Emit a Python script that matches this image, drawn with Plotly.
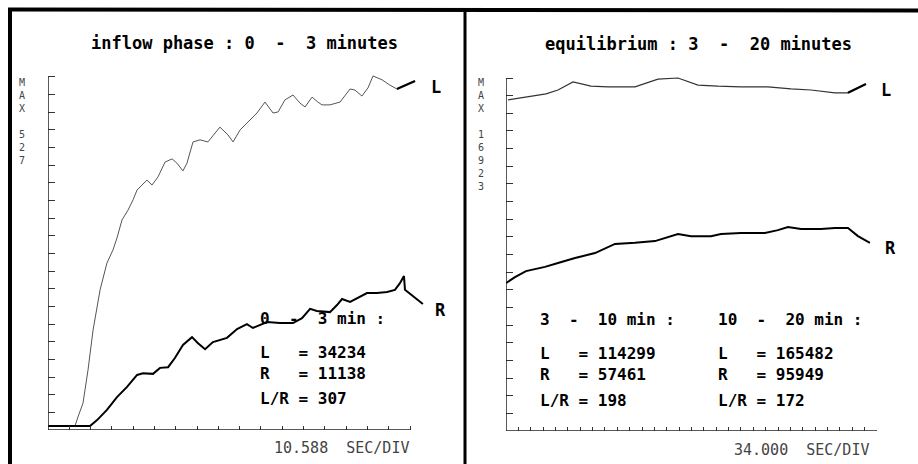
import plotly.graph_objects as go

# ---------------- data ----------------
# Left panel: inflow phase, time in seconds (0-180), signal in % of panel max
left_L_t = [0.0, 13.4, 14.9, 17.4, 19.9, 22.4, 25.9, 29.3, 32.3, 34.3, 36.8, 39.8, 42.3, 44.3, 49.2,
            51.7, 54.7, 58.2, 61.7, 64.1, 67.1, 69.1, 72.1, 75.6, 79.5, 85.5, 89.5, 92.0, 95.5,
            99.4, 103.9, 107.9, 111.9, 114.4, 117.8, 121.8, 125.3, 127.8, 131.3, 134.2, 136.2,
            140.2, 145.2, 150.2, 152.6, 156.1, 159.1, 161.6, 166.1, 170.0, 173.5, 177.5, 182.5]
left_L_v = [1.1, 1.1, 3.7, 7.6, 17.0, 28.3, 39.7, 47.3, 51.0, 54.4, 59.5, 62.3, 65.2, 68.0, 70.8,
            69.4, 71.7, 75.9, 76.8, 75.6, 73.4, 75.6, 81.6, 82.2, 81.6, 85.8, 83.6, 81.6, 85.0,
            87.3, 89.8, 92.9, 89.8, 90.1, 93.5, 94.9, 92.6, 91.5, 94.3, 92.9, 92.1,
            92.1, 92.9, 96.6, 96.3, 94.6, 96.9, 100.3, 99.2, 97.7, 96.6, 97.7, 98.9]
left_R_t = [0.0, 20.9, 24.4, 29.3, 34.3, 39.3, 44.3, 47.2, 52.2, 55.7, 59.7, 63.1, 67.1, 71.6, 74.6,
            78.1, 82.0, 89.0, 94.0, 98.9, 101.9, 105.4, 108.9, 115.3, 121.8, 126.3, 130.3, 133.7,
            140.2, 143.7, 146.2, 150.2, 153.6, 158.6, 163.6, 168.6, 172.5, 175.0, 177.0, 177.5, 186.4]
left_R_v = [1.1, 1.1, 2.8, 5.7, 9.3, 12.2, 15.6, 16.1, 15.9, 17.6, 17.8, 20.4, 24.1, 26.3, 24.6,
            22.9, 24.9, 26.1, 28.6, 30.0, 28.9, 29.7, 30.6, 30.3, 30.3, 31.7, 34.3, 33.7,
            33.4, 35.4, 37.1, 36.3, 37.4, 38.8, 38.8, 39.1, 39.7, 41.6, 43.6, 39.7, 35.7]

# Right panel: equilibrium, time in seconds (180-1200), signal in % of panel max
right_L_t = [185.5, 232.2, 290.0, 323.0, 364.2, 413.7, 460.4, 534.6, 597.8, 652.8, 707.8, 762.8,
             826.0, 900.2, 963.5, 1018.4, 1084.4, 1120.2, 1147.6, 1169.6]
right_L_v = [93.8, 94.6, 95.5, 96.6, 98.9, 97.7, 97.5, 97.5, 99.7, 100.0, 98.0, 97.7,
             97.5, 97.5, 96.9, 96.6, 95.8, 95.8, 97.2, 98.3]
right_R_t = [180.0, 204.7, 235.0, 287.2, 323.0, 369.7, 424.7, 479.6, 534.6, 589.6, 652.8, 688.6,
             743.6, 771.0, 826.0, 892.0, 927.7, 955.2, 990.9, 1045.9, 1084.4, 1120.2, 1147.6, 1180.6]
right_R_v = [41.9, 43.6, 45.3, 46.5, 47.6, 49.0, 50.4, 53.0, 53.3, 53.8, 55.8, 55.2,
             55.2, 55.8, 56.1, 56.1, 56.9, 57.8, 57.2, 57.2, 57.5, 57.5, 55.2, 53.3]

left_sec_per_div = 10.588
right_sec_per_div = 34.0

left_title = "inflow phase : 0  -  3 minutes"
right_title = "equilibrium : 3  -  20 minutes"
left_block = ["0  -  3 min :", "L   = 34234", "R   = 11138", "L/R = 307"]
right_block1 = ["3  -  10 min :", "L   = 114299", "R   = 57461", "L/R = 198"]
right_block2 = ["10  -  20 min :", "L   = 165482", "R   = 95949", "L/R = 172"]
left_max = "527"
right_max = "16923"

# ---------------- figure ----------------
W, H = 918, 464
MONO = "DejaVu Sans Mono"


def px(x):
    return x / W


def py(y):
    return 1 - y / H


def nb(s):
    return s.replace(" ", "\u00a0")


fig = go.Figure()

# left panel curves
fig.add_trace(go.Scatter(x=left_L_t, y=left_L_v, mode="lines",
                         line=dict(color="#555555", width=1), xaxis="x", yaxis="y"))
fig.add_trace(go.Scatter(x=left_L_t[-3:], y=left_L_v[-3:], mode="lines",
                         line=dict(color="black", width=2.2), xaxis="x", yaxis="y"))
fig.add_trace(go.Scatter(x=left_R_t, y=left_R_v, mode="lines",
                         line=dict(color="black", width=2), xaxis="x", yaxis="y"))
# right panel curves
fig.add_trace(go.Scatter(x=right_L_t, y=right_L_v, mode="lines",
                         line=dict(color="#333333", width=1.2), xaxis="x2", yaxis="y2"))
fig.add_trace(go.Scatter(x=right_L_t[-3:], y=right_L_v[-3:], mode="lines",
                         line=dict(color="black", width=2.2), xaxis="x2", yaxis="y2"))
fig.add_trace(go.Scatter(x=right_R_t, y=right_R_v, mode="lines",
                         line=dict(color="black", width=2), xaxis="x2", yaxis="y2"))

ax_common = dict(showgrid=False, zeroline=False, showline=False, showticklabels=False,
                 ticks="inside", tickcolor="#333333", tickwidth=1)

fig.update_layout(
    width=W, height=H, margin=dict(l=0, r=0, t=0, b=0),
    paper_bgcolor="white", plot_bgcolor="white", showlegend=False,
    xaxis=dict(domain=[0.05229, 0.46416], range=[0, 188], tick0=0,
               dtick=left_sec_per_div, ticklen=4, anchor="y", **ax_common),
    yaxis=dict(domain=[0.07328, 0.84927], range=[0, 102], tick0=0, dtick=5,
               ticklen=7, anchor="x", **ax_common),
    xaxis2=dict(domain=[0.55120, 0.95534], range=[180, 1200], tick0=180,
                dtick=right_sec_per_div, ticklen=4, anchor="y2", **ax_common),
    yaxis2=dict(domain=[0.07112, 0.84711], range=[0, 102], tick0=0, dtick=5,
                ticklen=7, anchor="x2", **ax_common),
)

shapes = []
# axis lines
shapes.append(dict(type="line", xref="x", yref="y", x0=0, x1=180, y0=0, y1=0,
                   line=dict(color="#222222", width=1.5)))
shapes.append(dict(type="line", xref="x", yref="y", x0=0, x1=0, y0=0, y1=100,
                   line=dict(color="#222222", width=1.5)))
shapes.append(dict(type="line", xref="x2", yref="y2", x0=180, x1=1200, y0=0, y1=0,
                   line=dict(color="#222222", width=1.5)))
shapes.append(dict(type="line", xref="x2", yref="y2", x0=180, x1=180, y0=0, y1=100,
                   line=dict(color="#222222", width=1.5)))
# frame
shapes.append(dict(type="line", xref="paper", yref="paper", x0=px(10), x1=px(10),
                   y0=0, y1=py(8), line=dict(color="black", width=4)))
shapes.append(dict(type="line", xref="paper", yref="paper", x0=px(8), x1=1,
                   y0=py(9.5), y1=py(10.5), line=dict(color="black", width=4)))
shapes.append(dict(type="line", xref="paper", yref="paper", x0=px(465), x1=px(465),
                   y0=0, y1=py(10), line=dict(color="black", width=3)))
fig.update_layout(shapes=shapes)

ann = []


def text(s, x, y, size=17, bold=True, color="black", xanchor="left", yanchor="middle"):
    ann.append(dict(text=nb(s), x=px(x), y=py(y), xref="paper", yref="paper",
                    xanchor=xanchor, yanchor=yanchor, showarrow=False, borderpad=0,
                    font=dict(family=MONO, size=size, color=color,
                              weight="bold" if bold else "normal")))


# titles
text(left_title, 244, 43, xanchor="center")
text(right_title, 698, 44, xanchor="center")
# curve labels
text("L", 430, 87)
text("R", 434, 310)
text("L", 880, 90)
text("R", 884, 248)
# statistic blocks
for s, y in zip(left_block, [318, 352, 373, 398]):
    text(s, 259, y, size=16)
for s, y in zip(right_block1, [319, 353, 374, 400]):
    text(s, 539, y, size=16)
for s, y in zip(right_block2, [319, 353, 374, 400]):
    text(s, 717, y, size=16)
# axis scale labels
text(f"{left_sec_per_div:.3f}  SEC/DIV", 410, 448, size=15, bold=False,
     color="#444444", xanchor="right")
text(f"{right_sec_per_div:.3f}  SEC/DIV", 870, 450, size=15, bold=False,
     color="#444444", xanchor="right")
# vertical MAX labels (stacked characters)
text("<br>".join(["M", "A", "X", ""] + list(left_max)), 22, 76, size=10, bold=False,
     color="#444444", xanchor="center", yanchor="top")
text("<br>".join(["M", "A", "X", ""] + list(right_max)), 481, 76, size=10, bold=False,
     color="#444444", xanchor="center", yanchor="top")

fig.update_layout(annotations=ann)
fig.write_html("out.html", config={"displayModeBar": False},
               post_script="document.body.style.margin='0';document.body.style.padding='0';"
                           "document.body.style.overflow='hidden';")
